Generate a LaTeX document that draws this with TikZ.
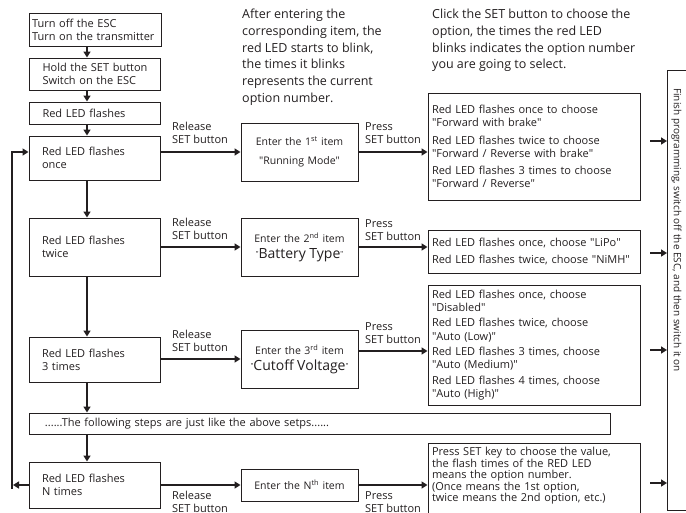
\documentclass[tikz,border=0pt]{standalone}
\usepackage{fontspec}
\setmainfont{Open Sans}
\usetikzlibrary{arrows.meta}
\definecolor{ink}{HTML}{231F20}
\newcommand{\qt}{\XeTeXglyph\XeTeXcharglyph"22\relax}
\newcommand{\sq}{\raisebox{1.5pt}{\scriptsize\qt}}
\begin{document}
\begin{tikzpicture}[x=1pt,y=-1pt,
  every node/.style={text=ink, font=\fontsize{11}{13.3}\selectfont},
  box/.style={draw=ink, line width=1pt, rectangle, inner ysep=0pt, align=left},
  lbox/.style={box, text width=105pt, inner xsep=13pt, minimum width=131pt},
  mbox/.style={box, align=center, text width=109pt, inner xsep=4pt, minimum width=117pt, font=\fontsize{10.5}{13}\selectfont},
  rbox/.style={box, text width=204pt, inner xsep=4pt, minimum width=212pt},
  arr/.style={draw=ink, line width=2.2pt, -{Triangle[length=6pt,width=7pt]}},
  lbl/.style={align=left, inner sep=0pt, anchor=north west},
  top/.style={lbl, font=\fontsize{12.5}{16.7}\selectfont}]
\useasboundingbox (0,0) rectangle (686,512);

% left column
\node[box, text width=126pt, inner xsep=3pt, minimum height=33pt] (b1) at (95,29.5) {Turn off the ESC\\Turn on the transmitter};
\node[lbox, minimum height=32pt] (b2) at (95,74) {Hold the SET button\\Switch on the ESC};
\node[lbox, minimum height=22pt] (b3) at (95,113) {Red LED flashes};
\node[lbox, minimum height=44pt] (l1) at (94.5,158) {Red LED flashes\\once};
\node[lbox, minimum height=58pt] (l2) at (94.5,247) {Red LED flashes\\twice};
\node[lbox, minimum height=45pt] (l3) at (94.5,359.5) {Red LED flashes\\3 times};
\node[box, text width=549pt, inner xsep=16pt, minimum height=21pt] (dots) at (319.5,423.5) {......The following steps are just like the above setps......};
\node[lbox, minimum height=46pt] (lN) at (94.5,485) {Red LED flashes\\N times};

% middle column
\node[mbox, minimum height=58pt] (m1) at (299.5,152) {Enter the 1\textsuperscript{st} item\\[6pt]\qt Running Mode\qt};
\node[mbox, minimum height=58pt] (m2) at (299.5,247) {Enter the 2\textsuperscript{nd} item\\[3pt]{\fontsize{14}{15}\selectfont\sq Battery Type\sq}};
\node[mbox, minimum height=58pt] (m3) at (299.5,359) {Enter the 3\textsuperscript{rd} item\\[3pt]{\fontsize{14}{15}\selectfont\sq Cutoff Voltage\sq}};
\node[mbox, minimum height=32pt] (mN) at (299.5,485) {Enter the N\textsuperscript{th} item};

% right column
\node[rbox, minimum height=107pt] (r1) at (534,146.5) {Red LED flashes once to choose\\\qt Forward with brake\qt\\[4pt]Red LED flashes twice to choose\\\qt Forward / Reverse with brake\qt\\[4pt]Red LED flashes 3 times to choose\\\qt Forward / Reverse\qt};
\node[rbox, minimum height=43pt] (r2) at (534,251.5) {Red LED flashes once, choose \qt LiPo\qt\\[3pt]Red LED flashes twice, choose \qt NiMH\qt};
\node[rbox, minimum height=120pt] (r3) at (534,345) {Red LED flashes once, choose\\\qt Disabled\qt\\[2pt]Red LED flashes twice, choose\\\qt Auto (Low)\qt\\[2pt]Red LED flashes 3 times, choose\\\qt Auto (Medium)\qt\\[2pt]Red LED flashes 4 times, choose\\\qt Auto (High)\qt};
\node[rbox, anchor=north, font=\fontsize{11}{11.5}\selectfont, text height=12pt, text depth=60pt] (rN) at (534,443) {Press SET key to choose the value,\\the flash times of the RED LED\\means the option number.\\(Once means the 1st option,\\twice means the 2nd option, etc.)};

% finish box
\draw[draw=ink, line width=1pt] (667,70) rectangle (700,510);
\node[rotate=-90, anchor=west, inner sep=0pt, font=\fontsize{10}{12}\selectfont] (fin) at (676.5,88) {Finish programming, switch off the ESC, and then switch it on};
\coordinate (fx) at (667,0);

% top texts
\node[top] (t1) at (242,9) {After entering the\\corresponding item, the\\red LED starts to blink,\\the times it blinks\\represents the current\\option number.};
\node[top] (t2) at (432,9) {Click the SET button to choose the\\option, the times the red LED\\blinks indicates the option number\\you are going to select.};

% labels
\node[lbl] (rl1) at (172,122) {Release\\SET button};
\node[lbl] (rl2) at (172,218) {Release\\SET button};
\node[lbl] (rl3) at (172,330) {Release\\SET button};
\node[lbl] (rlN) at (172,491) {Release\\SET button};
\node[lbl] (pl1) at (365,122) {Press\\SET button};
\node[lbl] (pl2) at (365,219) {Press\\SET button};
\node[lbl] (pl3) at (365,322) {Press\\SET button};
\node[lbl] (plN) at (365,491) {Press\\SET button};

% left column arrows
\coordinate (cx) at (87,0);
\draw[arr] (cx |- b1.south) -- (cx |- b2.north);
\draw[arr] (cx |- b2.south) -- (cx |- b3.north);
\draw[arr] (cx |- b3.south) -- (cx |- l1.north);
\draw[arr] (cx |- l1.south) -- (cx |- l2.north);
\draw[arr] (cx |- l2.south) -- (cx |- l3.north);
\draw[arr] (cx |- l3.south) -- (cx |- dots.north);
\draw[arr] (cx |- dots.south) -- (cx |- lN.north);

% loop
\coordinate (lt) at (12,152);
\coordinate (lb) at (12,489);
\coordinate (lbt) at (13,485);
\draw[arr] (lb) -- (lt) -- (lt -| l1.west);
\draw[arr] (lN.west) -- (lbt);

% horizontal arrows
\coordinate (y1) at (0,152);
\coordinate (y3) at (0,359);
\coordinate (y3b) at (0,351);
\draw[arr] (l1.east |- y1) -- (m1.west |- y1);
\draw[arr] (l2.east) -- (m2.west);
\draw[arr] (l3.east |- y3) -- (m3.west |- y3);
\draw[arr] (lN.east) -- (mN.west);
\draw[arr] (m1.east) -- (m1.east -| r1.west);
\draw[arr] (m2.east) -- (m2.east -| r2.west);
\draw[arr] (m3.east |- y3b) -- (r3.west |- y3b);
\draw[arr] (mN.east) -- (mN.east -| rN.west);

% arrows to finish
\coordinate (f1) at (650,141);
\coordinate (f2) at (650,253);
\coordinate (f3) at (650,350);
\coordinate (f4) at (650,483);
\draw[arr, line width=2pt] (f1) -- (f1 -| fx);
\draw[arr, line width=2pt] (f2) -- (f2 -| fx);
\draw[arr, line width=2pt] (f3) -- (f3 -| fx);
\draw[arr, line width=2pt] (f4) -- (f4 -| fx);
\end{tikzpicture}
\end{document}
